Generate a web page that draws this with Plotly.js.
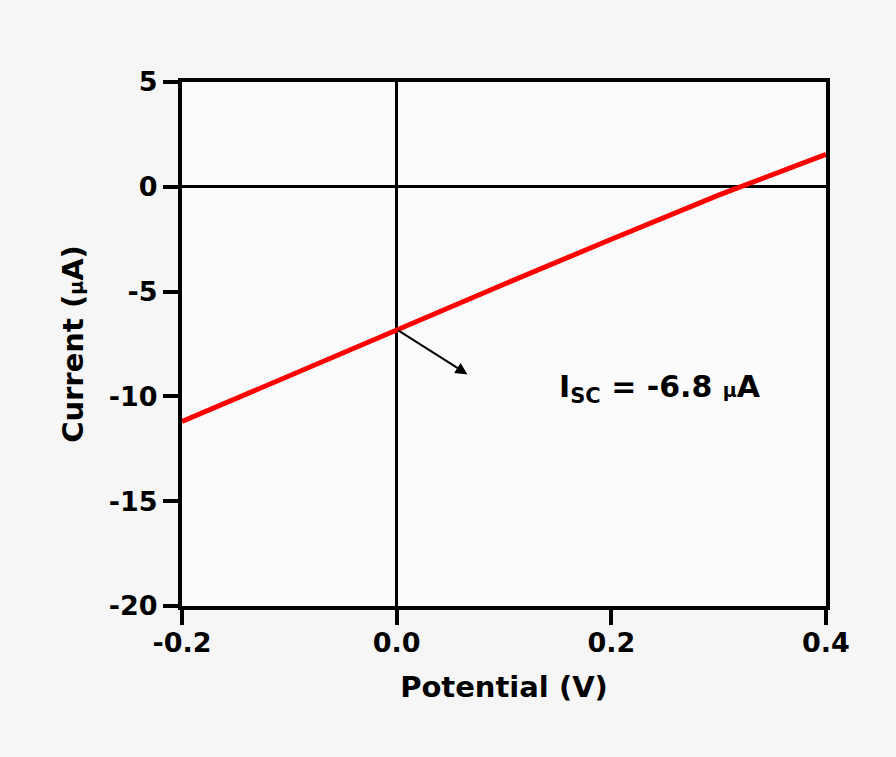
<!DOCTYPE html>
<html>
<head>
<meta charset="utf-8">
<script src="https://cdn.plot.ly/plotly-3.0.1.min.js"></script>
<style>
  html, body { margin: 0; padding: 0; background: #f6f6f6; }
  #plot { width: 896px; height: 757px; }
</style>
</head>
<body>
<div id="plot"></div>
<script>
// I-V sweep: potential (V) vs. current (µA)
const potential = [-0.2, -0.1, 0.0, 0.1, 0.2, 0.3, 0.4];
const current   = [-11.2, -9.0, -6.8, -4.65, -2.5, -0.4, 1.55];

// short-circuit current read at V = 0
const iscPotential = 0.0;
const iscCurrent = -6.8;

const xTicks = [-0.2, 0.0, 0.2, 0.4];
const xTickText = ['-0.2', '0.0', '0.2', '0.4'];
const yTicks = [-20, -15, -10, -5, 0, 5];
const yTickText = ['-20', '-15', '-10', '-5', '0', '5'];

const FONT = 'DejaVu Sans, Liberation Sans, Arial, sans-serif';

const trace = {
  x: potential,
  y: current,
  type: 'scatter',
  mode: 'lines',
  line: { color: '#ff0000', width: 5 },
  hoverinfo: 'skip'
};

const axisCommon = {
  showline: true,
  linecolor: '#000',
  linewidth: 4,
  mirror: true,
  ticks: 'outside',
  ticklen: 15,
  tickwidth: 4,
  tickcolor: '#000',
  showgrid: false,
  zeroline: true,
  zerolinecolor: '#000',
  zerolinewidth: 3,
  tickfont: { family: FONT, size: 27, color: '#000', weight: 'bold' },
  tickmode: 'array',
  fixedrange: true
};

const layout = {
  width: 896,
  height: 757,
  margin: { l: 182, r: 70, t: 82, b: 151 },
  paper_bgcolor: '#f6f6f6',
  plot_bgcolor: '#fbfbfb',
  showlegend: false,
  xaxis: Object.assign({}, axisCommon, {
    range: [-0.2, 0.4],
    tickvals: xTicks,
    ticktext: xTickText,
    ticklabelstandoff: -5,
    title: {
      text: '<b>Potential (V)</b>',
      font: { family: FONT, size: 29, color: '#000' },
      standoff: 20
    }
  }),
  yaxis: Object.assign({}, axisCommon, {
    range: [-20, 5],
    tickvals: yTicks,
    ticktext: yTickText,
    title: {
      text: '<b>Current (<span style="font-size:19px">µ</span>A)</b>',
      font: { family: FONT, size: 29, color: '#000' },
      standoff: 18
    }
  }),
  annotations: [
    {
      // arrow pointing away from the short-circuit point
      x: 0.066, y: -8.95, xref: 'x', yref: 'y',
      ax: iscPotential, ay: iscCurrent, axref: 'x', ayref: 'y',
      text: '',
      showarrow: true,
      arrowhead: 2,
      arrowsize: 1.2,
      arrowwidth: 2,
      arrowcolor: '#000'
    },
    {
      x: 0.245, y: -9.6, xref: 'x', yref: 'y',
      text: '<b>I<sub>SC</sub> = ' + iscCurrent.toFixed(1) + ' <span style="font-size:19px">µ</span>A</b>',
      showarrow: false,
      font: { family: FONT, size: 30, color: '#000' },
      xanchor: 'center',
      yanchor: 'middle'
    }
  ]
};

Plotly.newPlot('plot', [trace], layout, { displayModeBar: false, staticPlot: true });
</script>
</body>
</html>
